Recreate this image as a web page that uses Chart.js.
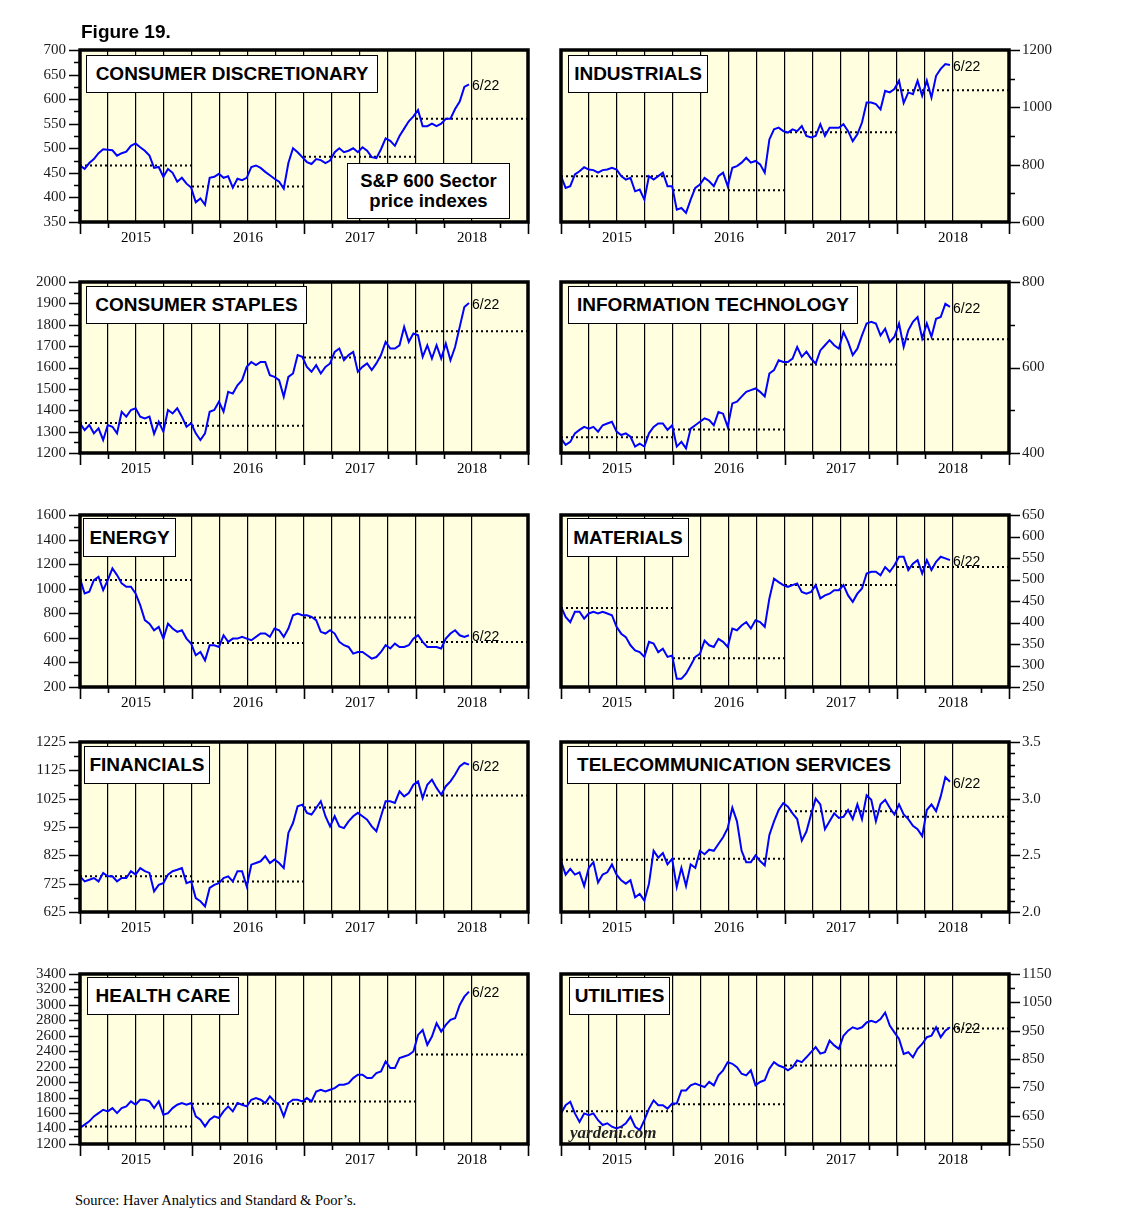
<!DOCTYPE html>
<html><head><meta charset="utf-8">
<script src="https://cdn.jsdelivr.net/npm/chart.js@4.4.1/dist/chart.umd.min.js"></script>
<style>
body{margin:0;background:#fff;width:1138px;height:1223px;position:relative;overflow:hidden;font-family:"Liberation Sans",Arial,sans-serif;}
canvas{position:absolute;z-index:1;}
.box{position:absolute;z-index:2;background:#fff;border:1.3px solid #000;box-sizing:border-box;font:bold 19px "Liberation Sans",Arial,sans-serif;color:#000;display:flex;align-items:center;justify-content:center;white-space:nowrap;}
.txt{position:absolute;z-index:2;white-space:nowrap;color:#000;}
</style></head>
<body>
<div class="txt" style="left:81px;top:21px;font:bold 19px 'Liberation Sans',Arial,sans-serif;">Figure 19.</div>
<div class="box" style="left:347px;top:163px;width:163px;height:56px;font-size:18.5px;line-height:20px;text-align:center;flex-direction:column;">S&amp;P 600 Sector<br>price indexes</div>
<div class="txt" style="left:570px;top:1123px;font:italic bold 17px 'Liberation Serif',serif;color:#222;">yardeni.com</div>
<div class="txt" style="left:75px;top:1192px;font:14.5px 'Liberation Serif',serif;">Source: Haver Analytics and Standard &amp; Poor’s.</div>
<script>
// ---------- DATA (semi-monthly readings, Jan 2015 – 6/22/2018) ----------
const START = 2015.0;
const END = 2018.473;           // 6/22/2018
const endLabel = '6/22';
const xYearLabels = ['2015', '2016', '2017', '2018'];
const yearEndYears = [2015, 2016, 2017, 2018];

const sectorTitles = ['CONSUMER DISCRETIONARY','INDUSTRIALS','CONSUMER STAPLES','INFORMATION TECHNOLOGY','ENERGY','MATERIALS','FINANCIALS','TELECOMMUNICATION SERVICES','HEALTH CARE','UTILITIES'];

const consDiscValues = [465,458,470,478,490,498,497,496,485,490,493,505,510,502,495,485,460,462,442,458,450,432,440,428,420,390,398,385,440,442,448,440,443,420,438,435,440,462,465,460,452,445,438,432,418,470,500,492,482,472,468,478,476,470,475,492,500,492,495,500,492,502,495,482,480,498,520,515,505,525,540,555,565,578,545,545,550,545,550,560,560,580,595,625,630];
const consDiscYearEnd = [465,422,483,560];

const industrialsValues = [760,719,725,766,777,791,783,781,772,781,783,789,783,760,748,754,707,713,678,760,748,760,772,725,725,643,649,632,678,719,731,754,742,725,760,772,725,789,795,807,824,807,813,801,772,888,923,929,917,912,923,917,935,900,895,900,941,900,929,929,929,941,917,882,906,947,1017,1017,1011,993,1058,1052,1064,1093,1015,1052,1046,1093,1040,1093,1034,1110,1134,1151,1148];
const industrialsYearEnd = [760,711,913,1060];

const consStaplesValues = [1339,1307,1331,1292,1315,1261,1331,1323,1292,1393,1370,1401,1409,1370,1362,1370,1290,1346,1300,1401,1385,1409,1370,1323,1339,1292,1261,1292,1393,1401,1440,1393,1486,1478,1517,1541,1603,1626,1611,1626,1626,1564,1556,1541,1463,1556,1572,1658,1650,1603,1580,1611,1572,1603,1619,1673,1689,1634,1658,1673,1580,1603,1619,1588,1619,1658,1720,1689,1689,1704,1790,1720,1759,1751,1650,1704,1642,1704,1642,1712,1634,1696,1790,1883,1902];
const consStaplesYearEnd = [1340,1328,1647,1770];

const infoTechValues = [434,419,426,446,454,461,457,461,450,465,469,473,450,442,446,438,415,422,415,446,461,469,469,454,465,415,426,411,457,465,473,481,477,465,496,492,461,516,520,532,543,547,551,543,532,586,594,617,613,613,621,648,625,637,621,609,640,652,664,652,644,683,660,629,644,675,703,707,703,675,691,660,672,703,648,687,707,718,668,703,672,714,718,749,742];
const infoTechYearEnd = [437,455,607,666];

const energyValues = [1083,961,975,1070,1097,988,1070,1165,1111,1043,1016,1016,961,866,744,716,662,689,594,716,676,649,662,594,553,458,485,417,540,540,526,621,567,594,594,608,594,581,608,635,635,608,676,662,608,676,784,798,784,784,771,744,649,635,662,635,567,540,526,472,485,485,458,431,444,485,540,513,553,526,526,540,594,621,567,526,526,526,513,594,635,662,621,608,621];
const energyYearEnd = [1070,559,765,567];

const materialsValues = [437,413,401,425,425,409,421,425,421,425,421,417,390,374,366,347,335,331,320,355,351,331,339,320,323,269,269,281,300,320,327,358,347,343,362,355,343,386,382,393,401,386,405,401,390,456,502,494,487,483,487,491,471,467,471,487,456,463,467,475,475,487,463,448,467,479,514,518,518,510,529,518,533,553,553,522,537,545,514,545,522,541,553,549,545];
const materialsYearEnd = [434,317,487,529];

const financialsValues = [751,733,739,745,733,763,751,751,733,745,745,769,757,780,769,763,698,721,727,757,769,774,780,727,733,674,663,645,710,721,727,745,751,733,769,769,716,792,798,804,822,798,810,798,780,904,939,998,1004,975,969,992,1016,963,927,963,927,921,945,963,975,963,951,927,910,963,1016,1016,1010,1051,1033,1045,1074,1086,1027,1074,1092,1063,1039,1069,1086,1110,1139,1151,1145];
const financialsYearEnd = [751,733,994,1036];

const telecomValues = [2.45,2.33,2.38,2.33,2.35,2.23,2.39,2.44,2.26,2.33,2.35,2.42,2.33,2.28,2.25,2.28,2.13,2.16,2.10,2.25,2.54,2.48,2.52,2.42,2.47,2.22,2.39,2.23,2.42,2.39,2.54,2.51,2.55,2.54,2.60,2.66,2.74,2.92,2.80,2.54,2.44,2.44,2.50,2.45,2.41,2.68,2.80,2.90,2.96,2.93,2.87,2.82,2.63,2.71,2.86,3.00,2.95,2.73,2.80,2.87,2.83,2.84,2.90,2.82,2.95,2.82,3.03,2.99,2.80,2.95,2.99,2.92,2.86,2.95,2.86,2.82,2.76,2.73,2.67,2.90,2.95,2.89,3.02,3.19,3.15];
const telecomYearEnd = [2.46,2.47,2.89,2.84];

const healthCareValues = [1407,1450,1493,1557,1600,1643,1622,1665,1600,1665,1687,1751,1708,1773,1773,1751,1665,1751,1579,1600,1665,1708,1730,1708,1730,1557,1514,1428,1514,1557,1536,1622,1687,1622,1730,1708,1687,1773,1794,1773,1730,1816,1751,1708,1557,1730,1773,1773,1751,1794,1751,1880,1902,1880,1902,1923,1966,1966,1988,2053,2096,2096,2053,2053,2117,2139,2268,2182,2182,2311,2332,2354,2397,2612,2676,2483,2590,2762,2655,2741,2806,2827,3000,3107,3172];
const healthCareYearEnd = [1428,1721,1751,2358];

const utilitiesValues = [658,687,699,658,628,658,652,658,634,617,623,611,605,611,623,646,611,599,634,675,704,687,687,675,693,693,739,739,757,763,757,751,769,757,792,810,839,833,821,798,792,810,757,769,775,816,839,827,821,810,821,845,839,856,874,892,869,874,915,898,886,932,950,962,956,962,979,985,979,991,1014,968,944,921,868,874,856,886,903,927,932,962,927,950,962];
const utilitiesYearEnd = [666,690,827,958];

// ---------- LAYOUT / AXIS CONFIG ----------
const ROWS = [[50,222],[282,453],[515,687],[742,912],[974,1144]];
const BG = '#ffffe0';
const BLUE = '#0000ff';

const panels = [
  {title:sectorTitles[0], values:consDiscValues, yearEnd:consDiscYearEnd, row:0, col:0, min:350, max:700, major:50, minor:25, dec:0, box:[86,55,292,38]},
  {title:sectorTitles[1], values:industrialsValues, yearEnd:industrialsYearEnd, row:0, col:1, min:600, max:1200, major:200, minor:100, dec:0, box:[568,55,140,38]},
  {title:sectorTitles[2], values:consStaplesValues, yearEnd:consStaplesYearEnd, row:1, col:0, min:1200, max:2000, major:100, minor:50, dec:0, box:[86,286,221,38]},
  {title:sectorTitles[3], values:infoTechValues, yearEnd:infoTechYearEnd, row:1, col:1, min:400, max:800, major:200, minor:100, dec:0, box:[568,286,290,38]},
  {title:sectorTitles[4], values:energyValues, yearEnd:energyYearEnd, row:2, col:0, min:200, max:1600, major:200, minor:100, dec:0, box:[83,518,93,39]},
  {title:sectorTitles[5], values:materialsValues, yearEnd:materialsYearEnd, row:2, col:1, min:250, max:650, major:50, minor:50, dec:0, box:[567,518,122,39]},
  {title:sectorTitles[6], values:financialsValues, yearEnd:financialsYearEnd, row:3, col:0, min:625, max:1225, major:100, minor:50, dec:0, box:[84,746,126,38]},
  {title:sectorTitles[7], values:telecomValues, yearEnd:telecomYearEnd, row:3, col:1, min:2.0, max:3.5, major:0.5, minor:0.1, dec:1, box:[567,746,334,38]},
  {title:sectorTitles[8], values:healthCareValues, yearEnd:healthCareYearEnd, row:4, col:0, min:1200, max:3400, major:200, minor:100, dec:0, box:[87,977,152,38]},
  {title:sectorTitles[9], values:utilitiesValues, yearEnd:utilitiesYearEnd, row:4, col:1, min:550, max:1150, major:100, minor:50, dec:0, box:[569,977,101,38]},
];

function makePanel(p){
  const left = p.col === 0;
  const [top, bottom] = ROWS[p.row];
  const plotH = bottom - top;
  const PADT = 30, XH = 36;
  const cw = left ? 548 : 597;
  const cl = left ? 0 : 541;
  const ch = plotH + PADT + XH;
  const canvas = document.createElement('canvas');
  canvas.width = cw; canvas.height = ch;
  Object.assign(canvas.style, {left: cl+'px', top: (top-PADT)+'px', width: cw+'px', height: ch+'px'});
  document.body.appendChild(canvas);

  const box = document.createElement('div');
  box.className = 'box';
  Object.assign(box.style, {left:p.box[0]+'px', top:p.box[1]+'px', width:p.box[2]+'px', height:p.box[3]+'px'});
  box.textContent = p.title;
  document.body.appendChild(box);

  const n = p.values.length;
  const step = (END - START) / (n - 1);
  const lineData = p.values.map((v, i) => ({x: START + i*step, y: v}));
  const datasets = [{data: lineData, borderColor: BLUE, borderWidth: 2, pointRadius: 0, tension: 0, fill: false}];
  p.yearEnd.forEach((lvl, k) => {
    datasets.push({data: [{x: yearEndYears[k], y: lvl}, {x: yearEndYears[k] + 1, y: lvl}],
      borderColor: '#000', borderWidth: 2, borderDash: [2, 3], pointRadius: 0, fill: false});
  });

  const frame = {
    id: 'frame',
    beforeDraw(chart){
      const {ctx, chartArea: a} = chart;
      ctx.save(); ctx.fillStyle = BG;
      ctx.fillRect(a.left, a.top, a.right - a.left, a.bottom - a.top);
      ctx.restore();
    },
    afterDraw(chart){
      const {ctx, chartArea: a, scales: {x, y}} = chart;
      ctx.save();
      ctx.strokeStyle = '#000';
      ctx.lineWidth = 1.6;
      ctx.beginPath();
      for (let q = 0; q <= 16; q++){
        if (q % 4 === 2) continue;
        const px = Math.round(x.getPixelForValue(START + q*0.25)) + 0.5;
        const len = (q % 4 === 0) ? 12 : 6;
        ctx.moveTo(px, a.bottom); ctx.lineTo(px, a.bottom + len);
      }
      const nSteps = Math.round((p.max - p.min) / p.minor);
      const ratio = Math.round(p.major / p.minor);
      for (let k = 0; k <= nSteps; k++){
        const v = p.min + k*p.minor;
        const py = Math.round(y.getPixelForValue(v)) + 0.5;
        const len = (k % ratio === 0) ? 11 : 6;
        if (left){ ctx.moveTo(a.left, py); ctx.lineTo(a.left - len, py); }
        else { ctx.moveTo(a.right, py); ctx.lineTo(a.right + len, py); }
      }
      ctx.stroke();
      ctx.lineWidth = 3.5;
      ctx.strokeRect(a.left, a.top, a.right - a.left, a.bottom - a.top);
      // end-date label
      const last = lineData[n-1];
      ctx.fillStyle = '#000';
      ctx.font = '14px "Liberation Sans", Arial, sans-serif';
      ctx.textBaseline = 'middle';
      ctx.textAlign = 'left';
      ctx.fillText(endLabel, x.getPixelForValue(last.x) + 3, y.getPixelForValue(last.y) + 2);
      ctx.restore();
    }
  };

  new Chart(canvas, {
    type: 'line',
    data: {datasets},
    options: {
      responsive: false, animation: false, devicePixelRatio: 1,
      layout: {padding: left ? {left:0, right:20, top:PADT, bottom:0} : {left:20, right:69, top:PADT, bottom:0}},
      plugins: {legend: {display:false}, tooltip: {enabled:false}},
      scales: {
        x: {type:'linear', min:2015, max:2019,
          afterFit: s => { s.height = XH; },
          ticks: {stepSize:0.25, autoSkip:false, maxRotation:0, minRotation:0, padding:7, color:'#000',
            font: {family:'"Liberation Serif", serif', size:15},
            callback: v => { const f = v - Math.floor(v); return Math.abs(f - 0.5) < 1e-6 ? xYearLabels[Math.floor(v) - 2015] || '' : ''; }},
          grid: {drawTicks:false, lineWidth:1.2,
            color: c => { const v = c.tick ? c.tick.value : 0; return (v > 2015.01 && v < 2018.51) ? '#000' : 'rgba(0,0,0,0)'; }},
          border: {display:false}},
        y: {type:'linear', position: left ? 'left' : 'right', min:p.min, max:p.max,
          afterFit: s => { s.width = left ? 80 : 60; },
          ticks: {stepSize:p.major, autoSkip:false, padding: left ? 14 : 13, color:'#1a1a1a',
            font: {family:'"Liberation Serif", serif', size:15},
            callback: v => p.dec ? Number(v).toFixed(p.dec) : String(Math.round(v))},
          grid: {display:false, drawTicks:false},
          border: {display:false}}
      }
    },
    plugins: [frame]
  });
}
panels.forEach(makePanel);
</script>
</body></html>
